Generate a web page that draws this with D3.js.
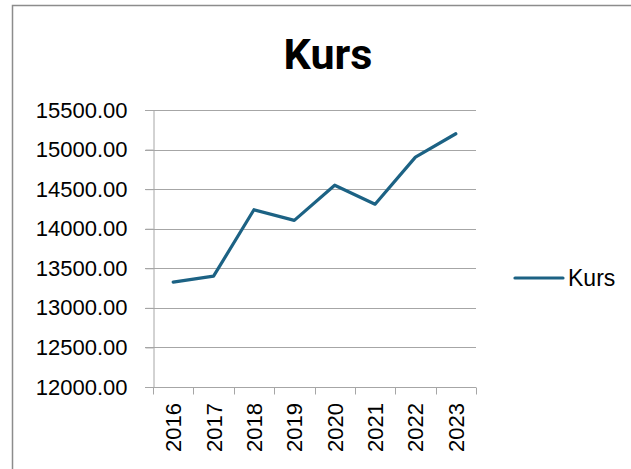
<!DOCTYPE html>
<html>
<head>
<meta charset="utf-8">
<script src="https://cdn.jsdelivr.net/npm/d3@7"></script>
<style>
  body { margin: 0; background: #fff; }
  svg { display: block; }
</style>
</head>
<body>
<script>
var years = ["2016", "2017", "2018", "2019", "2020", "2021", "2022", "2023"];
var kurs = [13325, 13400, 14240, 14105, 14550, 14310, 14905, 15200];
var yTicks = [12000, 12500, 13000, 13500, 14000, 14500, 15000, 15500];
var seriesName = "Kurs";

var width = 631, height = 469;
var lineColor = "#1c6284";
var gridColor = "#a6a6a6";
var labelFont = "'Liberation Sans', Arial, sans-serif";

var svg = d3.select("body").append("svg")
    .attr("width", width)
    .attr("height", height);

// chart frame (runs off the right and bottom edges)
svg.append("rect")
    .attr("x", 12.5).attr("y", 5.5)
    .attr("width", 640).attr("height", 480)
    .attr("fill", "#fff")
    .attr("stroke", "#8c8c8c")
    .attr("stroke-width", 1.5);

svg.append("text")
    .attr("x", 328).attr("y", 69)
    .attr("text-anchor", "middle")
    .attr("font-family", "Roboto, 'Liberation Sans', sans-serif")
    .attr("font-weight", "bold")
    .attr("font-size", 43)
    .attr("fill", "#000")
    .text(seriesName);

var plotLeft = 153, plotRight = 476, plotTop = 110, plotBottom = 387;

var x = d3.scaleBand().domain(years).range([plotLeft, plotRight]);
var y = d3.scaleLinear().domain([12000, 15500]).range([plotBottom, plotTop]);

// gridlines
svg.append("g")
    .selectAll("line")
    .data(yTicks)
    .enter().append("line")
    .attr("x1", plotLeft - 8).attr("x2", plotRight)
    .attr("y1", function(d) { return Math.round(y(d)) + 0.5; })
    .attr("y2", function(d) { return Math.round(y(d)) + 0.5; })
    .attr("stroke", gridColor)
    .attr("stroke-width", 1);

// y axis
var yAxis = svg.append("g")
    .attr("transform", "translate(" + (plotLeft + 0.5) + ",0)")
    .call(d3.axisLeft(y).tickValues(yTicks).tickFormat(d3.format(".2f")).tickSize(8).tickPadding(18));
yAxis.select(".domain").attr("stroke", gridColor);
yAxis.selectAll(".tick line").attr("stroke", gridColor);
yAxis.selectAll("text")
    .attr("font-family", labelFont)
    .attr("font-size", 22)
    .attr("fill", "#000");

// x axis
var xAxis = svg.append("g")
    .attr("transform", "translate(0," + (plotBottom + 0.5) + ")");
xAxis.append("line")
    .attr("x1", plotLeft).attr("x2", plotRight)
    .attr("stroke", gridColor);

var edges = years.map(function(d) { return x(d); }).concat([plotRight]);
xAxis.selectAll(".edge")
    .data(edges)
    .enter().append("line")
    .attr("class", "edge")
    .attr("x1", function(d) { return Math.round(d) + 0.5; })
    .attr("x2", function(d) { return Math.round(d) + 0.5; })
    .attr("y1", 0).attr("y2", 7)
    .attr("stroke", gridColor);

svg.append("g")
    .selectAll("text")
    .data(years)
    .enter().append("text")
    .attr("transform", function(d) {
        return "translate(" + (x(d) + x.bandwidth() / 2 + 8) + "," + (plotBottom + 16) + ") rotate(-90)";
    })
    .attr("text-anchor", "end")
    .attr("font-family", labelFont)
    .attr("font-size", 22)
    .attr("fill", "#000")
    .text(function(d) { return d; });

// series line
var line = d3.line()
    .x(function(d, i) { return x(years[i]) + x.bandwidth() / 2; })
    .y(function(d) { return y(d); });

svg.append("path")
    .datum(kurs)
    .attr("d", line)
    .attr("fill", "none")
    .attr("stroke", lineColor)
    .attr("stroke-width", 3.2)
    .attr("stroke-linejoin", "round")
    .attr("stroke-linecap", "round");

// legend
svg.append("line")
    .attr("x1", 515).attr("x2", 563)
    .attr("y1", 278).attr("y2", 278)
    .attr("stroke", lineColor)
    .attr("stroke-width", 3.2)
    .attr("stroke-linecap", "round");

svg.append("text")
    .attr("x", 568).attr("y", 286)
    .attr("font-family", labelFont)
    .attr("font-size", 23)
    .attr("fill", "#000")
    .text(seriesName);
</script>
</body>
</html>
